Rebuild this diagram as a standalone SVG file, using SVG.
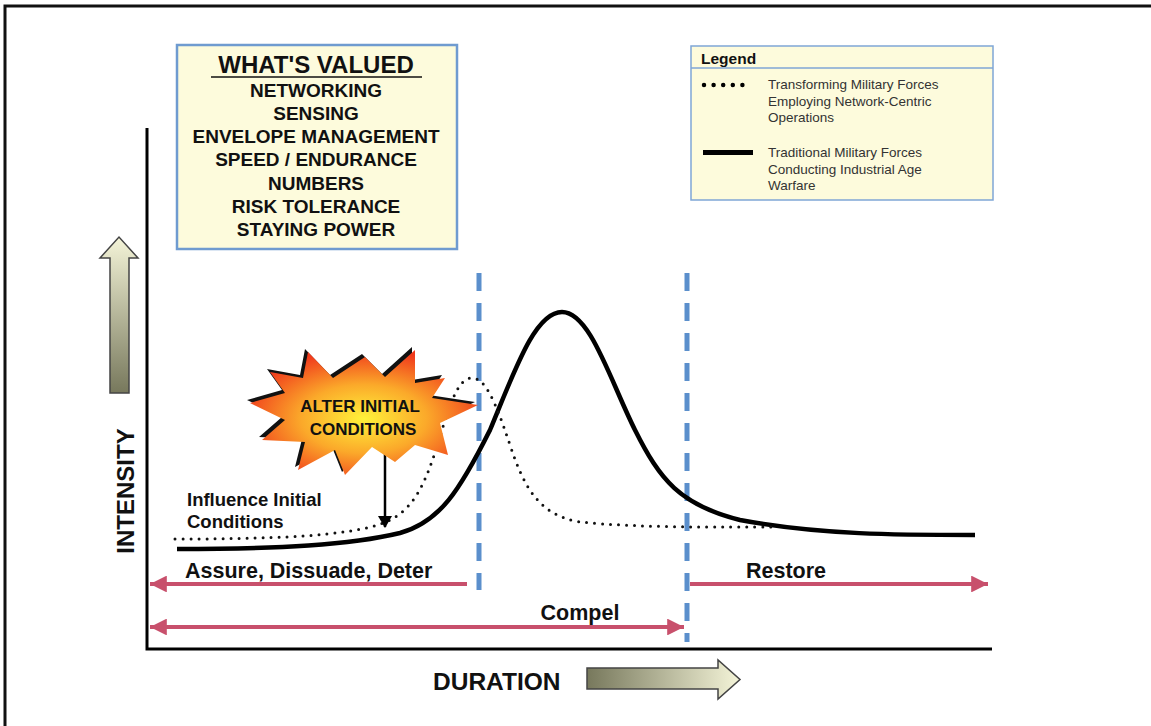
<svg xmlns="http://www.w3.org/2000/svg" width="1151" height="726" viewBox="0 0 1151 726">
<defs>
<style>
.b{font-family:"Liberation Sans",Arial,sans-serif;font-weight:bold;fill:#111}
.v{font-size:19px;text-anchor:middle}
.lg{font-family:"Liberation Sans",Arial,sans-serif;font-size:13.5px;fill:#333}
.pink{stroke:#c8506c;stroke-width:4;fill:none}
.blue{stroke:#5b8fcc;stroke-width:5;stroke-dasharray:18 12;fill:none}
</style>
<linearGradient id="gUp" x1="0" y1="0" x2="0" y2="1">
<stop offset="0" stop-color="#f4f4d8"/>
<stop offset="1" stop-color="#77785c"/>
</linearGradient>
<linearGradient id="gRight" x1="0" y1="0" x2="1" y2="0">
<stop offset="0" stop-color="#77785c"/>
<stop offset="1" stop-color="#f4f4d8"/>
</linearGradient>
<radialGradient id="gStar" cx="0.5" cy="0.55" r="0.55">
<stop offset="0" stop-color="#fff23a"/>
<stop offset="0.5" stop-color="#fba92a"/>
<stop offset="1" stop-color="#f03a1c"/>
</radialGradient>
<marker id="pk" viewBox="0 0 16 16" refX="16" refY="8" markerWidth="4.2" markerHeight="4.2" orient="auto-start-reverse" markerUnits="strokeWidth">
<path d="M0,0 L16,8 L0,16 z" fill="#c8506c"/>
</marker>
<marker id="bk" viewBox="0 0 12 14" refX="11" refY="7" markerWidth="5" markerHeight="6" orient="auto" markerUnits="strokeWidth">
<path d="M0,0 L12,7 L0,14 z" fill="#000"/>
</marker>
</defs>
<rect width="1151" height="726" fill="#fff"/>
<path d="M5,726 V6 H1151" fill="none" stroke="#111" stroke-width="3"/>

<g id="axes">
<path d="M147,128 V649 H992" fill="none" stroke="#000" stroke-width="3"/>
</g>

<g id="intensity-arrow">
<path d="M110,393 V258 H100 L119,237 L138,258 H129 V393 z" fill="url(#gUp)" stroke="#444" stroke-width="1.5"/>
<text class="b" font-size="24" transform="translate(134,491) rotate(-90)" text-anchor="middle">INTENSITY</text>
</g>

<g id="duration-arrow">
<text class="b" x="433" y="690" font-size="24.5">DURATION</text>
<path d="M587,668 H718 V660 L740,679.5 L718,699 V689 H587 z" fill="url(#gRight)" stroke="#444" stroke-width="1.5"/>
</g>

<g id="whats-valued">
<rect x="177" y="45" width="280" height="204" fill="#fdfbdc" stroke="#6f9bd0" stroke-width="2.5"/>
<text class="b" x="316" y="73" font-size="24" text-anchor="middle">WHAT'S VALUED</text>
<line x1="211" y1="77" x2="422" y2="77" stroke="#111" stroke-width="1.5"/>
<text class="b v" x="316" y="97">NETWORKING</text>
<text class="b v" x="316" y="120">SENSING</text>
<text class="b v" x="316" y="143">ENVELOPE MANAGEMENT</text>
<text class="b v" x="316" y="166">SPEED / ENDURANCE</text>
<text class="b v" x="316" y="190">NUMBERS</text>
<text class="b v" x="316" y="213">RISK TOLERANCE</text>
<text class="b v" x="316" y="236">STAYING POWER</text>
</g>

<g id="legend">
<rect x="691" y="46" width="302" height="154" fill="#fdfbdc" stroke="#7fa6d6" stroke-width="1.5"/>
<line x1="691" y1="68" x2="993" y2="68" stroke="#7fa6d6" stroke-width="1.5"/>
<text class="b" x="701" y="64" font-size="15.5">Legend</text>
<line x1="704" y1="85" x2="752" y2="85" stroke="#000" stroke-width="4.5" stroke-dasharray="0 9.6" stroke-linecap="round"/>
<text class="lg" x="768" y="89">Transforming Military Forces</text>
<text class="lg" x="768" y="106">Employing Network-Centric</text>
<text class="lg" x="768" y="122">Operations</text>
<rect x="703" y="150" width="50" height="5" fill="#000"/>
<text class="lg" x="768" y="157">Traditional Military Forces</text>
<text class="lg" x="768" y="174">Conducting Industrial Age</text>
<text class="lg" x="768" y="190">Warfare</text>
</g>

<g id="connectors">
<line class="blue" x1="479" y1="273" x2="479" y2="590"/>
<line class="blue" x1="687" y1="273" x2="687" y2="642"/>
<path d="M177,549 C280,549 350,545 400,533 C440,522 460,490 490,430 C515,370 535,312 562,312 C590,312 610,380 635,430 C660,480 680,505 740,520 C820,535 900,535 975,535" fill="none" stroke="#000" stroke-width="4.5"/>
<path d="M175,539 C290,539 360,535 390,520 C420,505 430,470 445,420 C455,390 462,378 472,378 C485,378 495,400 510,445 C525,490 540,515 580,522 C640,528 720,527 775,527" fill="none" stroke="#111" stroke-width="3" stroke-dasharray="0 8" stroke-linecap="round"/>
<line x1="385" y1="452" x2="385" y2="527" stroke="#000" stroke-width="2.5" marker-end="url(#bk)"/>
<line class="pink" x1="467" y1="584" x2="150" y2="584" marker-end="url(#pk)"/>
<line class="pink" x1="690" y1="584" x2="988" y2="584" marker-end="url(#pk)"/>
<line class="pink" x1="150" y1="627" x2="684" y2="627" marker-start="url(#pk)" marker-end="url(#pk)"/>
</g>

<g id="starburst">
<polygon transform="translate(-3,-3)" fill="#111" points="250,403 285,393 270,372 303,378 308,352 333,378 365,357 385,377 415,350 415,383 445,378 432,398 478,405 440,423 448,455 415,445 395,462 372,447 345,475 335,450 298,470 305,442 262,440 285,420"/>
<polygon fill="url(#gStar)" points="250,403 285,393 270,372 303,378 308,352 333,378 365,357 385,377 415,350 415,383 445,378 432,398 478,405 440,423 448,455 415,445 395,462 372,447 345,475 335,450 298,470 305,442 262,440 285,420"/>
<text class="b" x="360" y="412" font-size="17" text-anchor="middle">ALTER INITIAL</text>
<text class="b" x="363" y="435" font-size="17" text-anchor="middle">CONDITIONS</text>
</g>

<g id="labels">
<text class="b" x="187" y="506" font-size="18.5">Influence Initial</text>
<text class="b" x="187" y="528" font-size="18.5">Conditions</text>
<text class="b" x="185" y="578" font-size="21.5">Assure, Dissuade, Deter</text>
<text class="b" x="786" y="578" font-size="21.5" text-anchor="middle">Restore</text>
<text class="b" x="580" y="620" font-size="21.5" text-anchor="middle">Compel</text>
</g>
</svg>
